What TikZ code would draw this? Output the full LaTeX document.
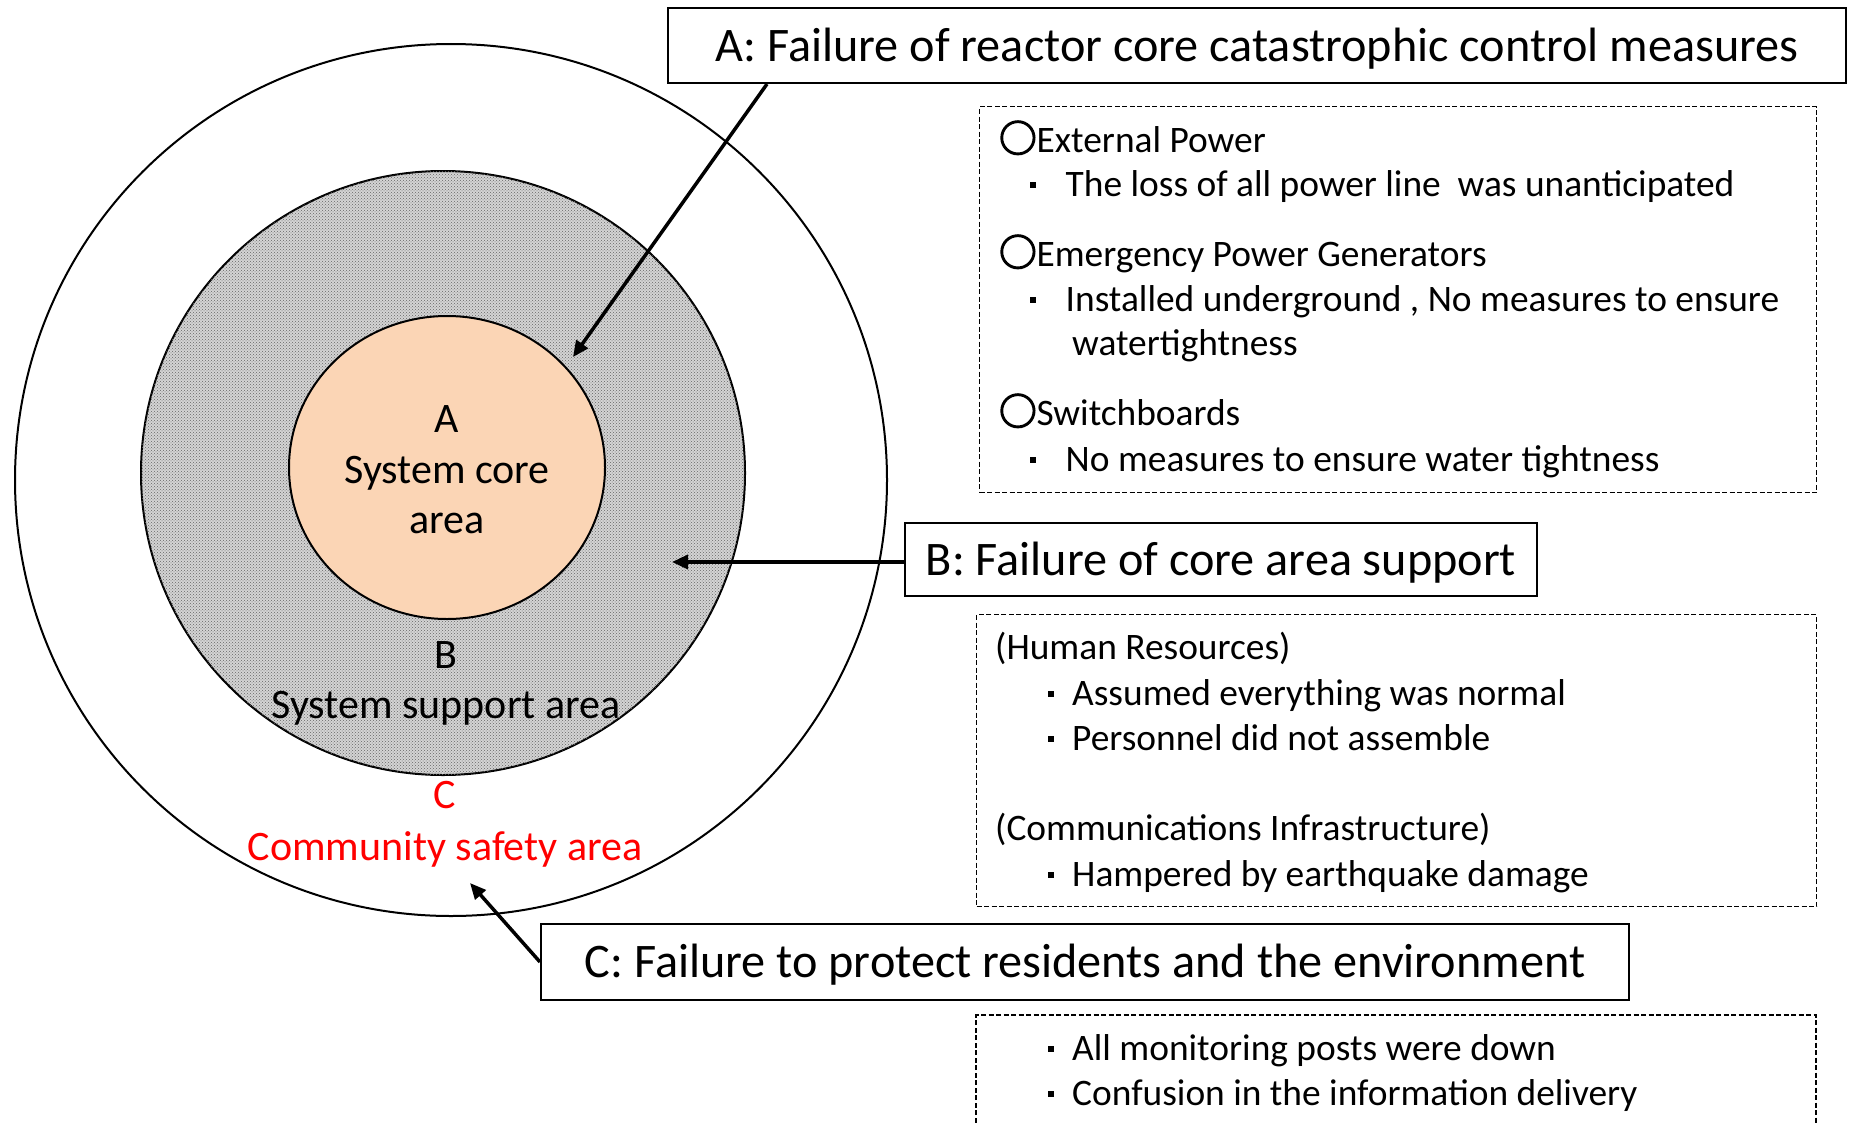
\documentclass[tikz,border=0pt]{standalone}
\usepackage{fontspec}
\setmainfont{Carlito}
\newfontfamily\cjk{Noto Sans CJK JP}[FakeBold=4]
\usetikzlibrary{arrows.meta, positioning, patterns, shapes.geometric}

\definecolor{corefill}{RGB}{251,213,181}
\definecolor{ringfill}{RGB}{212,212,212}

\newcommand{\sqb}{\rule[8.5pt]{5.5pt}{5.5pt}}
\newcommand{\ring}{{\cjk ○}}

\tikzset{
  area/.style={draw, line width=2pt, inner sep=0pt},
  titlebox/.style={draw, line width=2pt, inner sep=0pt, text height=40pt, text depth=9pt,
                   font=\fontsize{48.2}{58}\selectfont},
  dashbox/.style={draw, line width=1.4pt, dash pattern=on 5pt off 2.5pt},
  lbl/.style={anchor=base, inner sep=0pt, font=\fontsize{42}{50}\selectfont},
  item/.style={anchor=base west, inner sep=0pt, font=\fontsize{37.4}{44}\selectfont},
  arr/.style={-{Triangle[length=16pt,width=14pt]}, line width=3.5pt},
}

\begin{document}
\begin{tikzpicture}[x=1pt, y=-1pt]
\useasboundingbox (0,0) rectangle (1851,1124);

% three nested areas
\node[area, circle, fill=white, minimum size=872pt] (outer) at (451,480) {};
\node[area, circle, fill=ringfill, minimum size=604pt,
      postaction={pattern=crosshatch dots, pattern color=black!60}] (support) at (443,473) {};
\node[area, ellipse, fill=corefill, minimum width=316pt, minimum height=303pt] (core) at (447,467.5) {};

% area labels
\node[lbl] (coreL1) at (447,432) {A};
\node[lbl] (coreL2) at (447,483) {System core};
\node[lbl] (coreL3) at (447,533) {area};
\node[lbl] (supL1) at (446,668) {B};
\node[lbl] (supL2) at (446,718) {System support area};
\node[lbl, text=red] (comL1) at (445,808) {C};
\node[lbl, text=red] (comL2) at (445,860) {Community safety area};

% failure titles
\node[titlebox, minimum width=1178pt, minimum height=75pt] (boxA) at (1257,45.5) {A: Failure of reactor core catastrophic control measures};
\node[titlebox, minimum width=632pt, minimum height=73pt] (boxB) at (1221,559.5) {B: Failure of core area support};
\node[titlebox, minimum width=1088pt, minimum height=76pt] (boxC) at (1085,962) {C: Failure to protect residents and the environment};

% notes for A
\node[dashbox, minimum width=837pt, minimum height=386pt, anchor=north west] (noteA) at (979,106) {};
\node[item] (a1) at (999,152) {\ring External Power};
\node[item] (a2) at (1030,196) {\sqb\hspace{30pt}The loss of all power line\ \ was unanticipated};
\node[item] (a3) at (999,266) {\ring Emergency Power Generators};
\node[item] (a4) at (1030,311) {\sqb\hspace{30pt}Installed underground , No measures to ensure};
\node[item] (a5) at (1072,355) {watertightness};
\node[item] (a6) at (999,425) {\ring Switchboards};
\node[item] (a7) at (1030,471) {\sqb\hspace{30pt}No measures to ensure water tightness};

% notes for B
\node[dashbox, minimum width=840pt, minimum height=292pt, anchor=north west] (noteB) at (976,614) {};
\node[item] (b1) at (995,659) {(Human Resources)};
\node[item] (b2) at (1048,705) {\sqb\hspace{18.5pt}Assumed everything was normal};
\node[item] (b3) at (1048,750) {\sqb\hspace{18.5pt}Personnel did not assemble};
\node[item] (b4) at (995,840) {(Communications Infrastructure)};
\node[item] (b5) at (1048,886) {\sqb\hspace{18.5pt}Hampered by earthquake damage};

% notes for C (box runs off the page)
\draw[dashbox] (976,1130) |- (1816,1015) -- (1816,1130);
\node[item] (c1) at (1048,1060) {\sqb\hspace{18.5pt}All monitoring posts were down};
\node[item] (c2) at (1048,1105) {\sqb\hspace{18.5pt}Confusion in the information delivery};

% pointers into the areas
\coordinate (tipA) at (573,357);
\coordinate (tipB) at (672,562);
\coordinate (tipC) at (470,883);
\draw[arr] ([xshift=100pt]boxA.south west) -- (tipA);
\draw[arr] (boxB.west |- tipB) -- (tipB);
\draw[arr] (boxC.west) -- (tipC);
\end{tikzpicture}
\end{document}
